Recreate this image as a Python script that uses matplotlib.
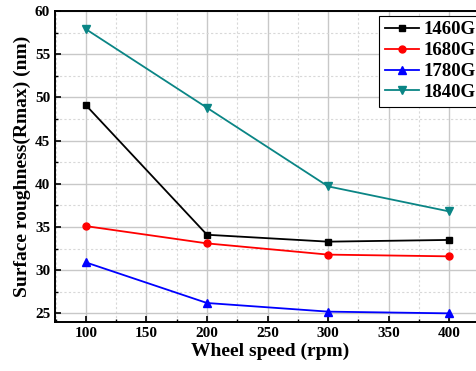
import matplotlib.pyplot as plt
from matplotlib.ticker import MultipleLocator

speed = [100, 200, 300, 400]
g1460 = [49.1, 34.1, 33.3, 33.5]
g1680 = [35.1, 33.1, 31.8, 31.6]
g1780 = [30.9, 26.2, 25.2, 25.0]
g1840 = [57.9, 48.8, 39.7, 36.8]

plt.rcParams['font.family'] = 'Liberation Serif'
plt.rcParams['font.weight'] = 'bold'

fig = plt.figure(figsize=(4.76, 3.71), dpi=100)
ax = fig.add_axes([55/476, 1 - 322/371, 1 - 55/476 + 0.02, (322 - 11)/371])

ax.plot(speed, g1460, color='black', marker='s', ms=4.5, lw=1.3, label='1460G')
ax.plot(speed, g1680, color='red', marker='o', ms=5, lw=1.3, label='1680G')
ax.plot(speed, g1780, color='blue', marker='^', ms=5.5, lw=1.3, label='1780G')
ax.plot(speed, g1840, color='#0a8585', marker='v', ms=5.5, lw=1.3, label='1840G')

ax.set_xlim(74.5, 430)
ax.set_ylim(24, 60)
ax.xaxis.set_major_locator(MultipleLocator(50))
ax.xaxis.set_minor_locator(MultipleLocator(25))
ax.yaxis.set_major_locator(MultipleLocator(5))
ax.yaxis.set_minor_locator(MultipleLocator(2.5))
ax.grid(which='major', color='#c8c8c8', lw=1.0, ls='-')
ax.grid(which='minor', color='#d8d8d8', lw=0.8, ls=(0, (2, 2)))
ax.set_axisbelow(True)
ax.tick_params(which='major', direction='in', length=4, width=1.2, labelsize=11)
ax.tick_params(which='minor', direction='in', length=2, width=1.0)
for s in ['left', 'bottom', 'top']:
    ax.spines[s].set_linewidth(1.4)
ax.spines['right'].set_visible(False)

ax.set_xlabel('Wheel speed (rpm)', fontsize=14, fontweight='bold', labelpad=2)
ax.set_ylabel('Surface roughness(Rmax) (nm)', fontsize=14, fontweight='bold', labelpad=3)

leg = ax.legend(loc='upper right', bbox_to_anchor=(0.99, 0.985), fontsize=13.5,
                frameon=True, fancybox=False, edgecolor='black', framealpha=1,
                handlelength=1.8, handletextpad=0.25, labelspacing=0.2, borderpad=0.3,
                borderaxespad=0)
leg.get_frame().set_linewidth(0.8)

fig.savefig('out.png', dpi=100)
